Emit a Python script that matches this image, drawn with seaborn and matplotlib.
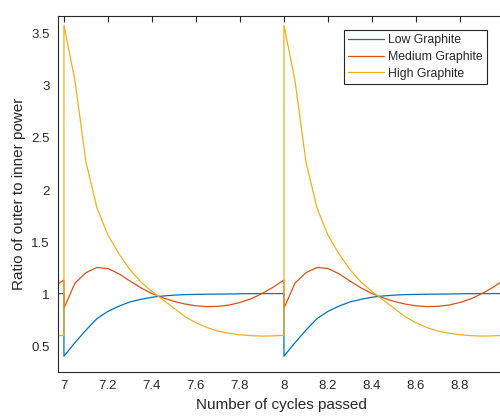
import numpy as np
import pandas as pd
import matplotlib
matplotlib.use('Agg')
import matplotlib.pyplot as plt
import seaborn as sns

cycle_pos = [0.00, 0.05, 0.10, 0.15, 0.20, 0.25, 0.30, 0.35, 0.40, 0.45, 0.50,
             0.55, 0.60, 0.65, 0.70, 0.75, 0.80, 0.85, 0.90, 0.95, 1.00]
low_graphite = [0.41, 0.54, 0.66, 0.77, 0.84, 0.89, 0.93, 0.955, 0.975, 0.987, 0.995,
                1.0, 1.002, 1.004, 1.005, 1.006, 1.008, 1.009, 1.01, 1.01, 1.01]
medium_graphite = [0.87, 1.11, 1.21, 1.26, 1.25, 1.20, 1.13, 1.065, 1.01, 0.97, 0.935,
                   0.91, 0.893, 0.885, 0.888, 0.90, 0.925, 0.96, 1.01, 1.07, 1.14]
high_graphite = [3.58, 3.05, 2.27, 1.83, 1.57, 1.39, 1.24, 1.12, 1.03, 0.95, 0.87,
                 0.79, 0.73, 0.685, 0.65, 0.63, 0.615, 0.607, 0.603, 0.605, 0.61]
cycle_starts = [7, 8]
prev_cycle_start = 6  # tail of the previous cycle entering from the left

series = {'Low Graphite': low_graphite,
          'Medium Graphite': medium_graphite,
          'High Graphite': high_graphite}

rows = []
for name, vals in series.items():
    # last two samples of cycle 6 so the line enters from the left edge
    for p, v in zip(cycle_pos[-2:], vals[-2:]):
        rows.append((prev_cycle_start + p, v, name))
    for c in cycle_starts:
        for p, v in zip(cycle_pos, vals):
            rows.append((c + p, v, name))
df = pd.DataFrame(rows, columns=['cycles', 'ratio', 'group'])

sns.set_style('white')
plt.rcParams['font.family'] = ['Liberation Sans', 'DejaVu Sans']

fig = plt.figure(figsize=(5, 4.16), dpi=100)
ax = fig.add_axes([0.116, 0.106, 0.892, 0.856])

palette = ['#0072BD', '#D95319', '#EDB120']
sns.lineplot(data=df, x='cycles', y='ratio', hue='group',
             hue_order=list(series.keys()), palette=palette,
             estimator=None, sort=False, linewidth=0.9, ax=ax)

ax.set_xlim(6.973, 9.0)
ax.set_ylim(0.26, 3.67)
ax.set_xticks([7, 7.2, 7.4, 7.6, 7.8, 8, 8.2, 8.4, 8.6, 8.8])
ax.set_xticklabels(['7', '7.2', '7.4', '7.6', '7.8', '8', '8.2', '8.4', '8.6', '8.8'])
ax.set_yticks([0.5, 1, 1.5, 2, 2.5, 3, 3.5])
ax.set_yticklabels(['0.5', '1', '1.5', '2', '2.5', '3', '3.5'])
ax.tick_params(direction='in', top=True, right=False, length=4, width=0.8,
               colors='#262626', labelsize=9.5, pad=6)
for s in ax.spines.values():
    s.set_color('#262626')
    s.set_linewidth(0.8)

ax.set_xlabel('Number of cycles passed', fontsize=11, color='#262626', labelpad=4)
ax.set_ylabel('Ratio of outer to inner power', fontsize=11, color='#262626', labelpad=4)

leg = ax.legend(loc='upper right', bbox_to_anchor=(0.962, 0.961), fontsize=8.8,
                frameon=True, fancybox=False, handlelength=3.0, handletextpad=0.3,
                borderpad=0.35, labelspacing=0.4, borderaxespad=0)
leg.get_frame().set_edgecolor('#262626')
leg.get_frame().set_linewidth(0.8)
leg.get_frame().set_alpha(1)

fig.savefig('out.png', dpi=100)
